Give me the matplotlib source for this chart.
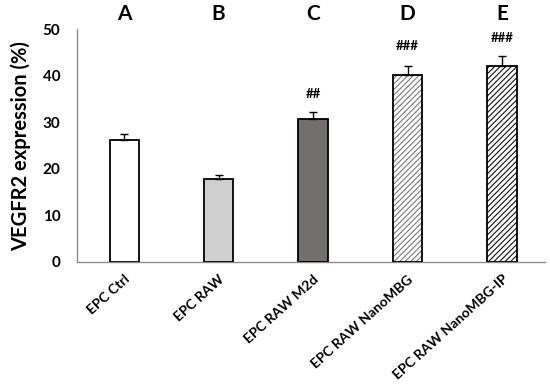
import matplotlib
matplotlib.use("Agg")
import matplotlib.pyplot as plt

categories = ["EPC Ctrl", "EPC RAW", "EPC RAW M2d", "EPC RAW NanoMBG", "EPC RAW NanoMBG-IP"]
values = [26.2, 17.8, 30.7, 40.2, 42.1]
errors = [1.3, 0.9, 1.6, 2.0, 2.2]
letters = ["A", "B", "C", "D", "E"]
marks = ["", "", "##", "###", "###"]
mark_y = [None, None, 36.1, 46.5, 48.1]
yticks = [0, 10, 20, 30, 40, 50]

plt.rcParams['font.family'] = ['Lato', 'DejaVu Sans']
plt.rcParams['hatch.linewidth'] = 0.8

fig = plt.figure(figsize=(5.5, 3.91), dpi=100)
ax = fig.add_axes([0.14, 0.33, 0.85, 0.595])

x = list(range(len(categories)))
fills = ["white", "#d0d0d0", "#736f6f", "white", "white"]
hatches = [None, None, None, "//////", "//////"]
hcolors = [None, None, None, "#7a7a7a", "#111111"]
w = 0.31
for i in x:
    if hatches[i]:
        ax.bar(x[i], values[i], width=w, color=fills[i], edgecolor=hcolors[i],
               hatch=hatches[i], linewidth=0, zorder=2)
        ax.bar(x[i], values[i], width=w, fill=False, edgecolor="black",
               linewidth=1.3, zorder=3)
    else:
        ax.bar(x[i], values[i], width=w, color=fills[i], edgecolor="black",
               linewidth=1.3, zorder=3)
ax.errorbar(x, values, yerr=[[0]*5, errors], fmt="none", ecolor="black",
            elinewidth=1.0, capsize=3, capthick=1.0, zorder=4)

for i in x:
    ax.text(x[i], 53.3, letters[i], ha="center", va="center", fontsize=15,
            fontweight="bold", clip_on=False)
    if marks[i]:
        ax.text(x[i], mark_y[i], marks[i], ha="center", va="center", fontsize=9.5,
                fontweight="bold")

ax.set_xlim(-0.5, 4.45)
ax.set_ylim(0, 50)
ax.set_yticks(yticks)
ax.set_yticklabels([str(t) for t in yticks], fontsize=11, fontweight="bold")
ax.set_xticks(x)
ax.set_xticklabels(categories, rotation=42, ha="right", rotation_mode="anchor",
                   fontsize=10, fontweight="bold")
ax.tick_params(axis="y", length=0, pad=12)
ax.tick_params(axis="x", length=0, pad=8)
ax.set_ylabel("VEGFR2 expression (%)", fontsize=14.5, fontweight="bold", labelpad=8)
for s in ["top", "right"]:
    ax.spines[s].set_visible(False)
for s in ["left", "bottom"]:
    ax.spines[s].set_color("#8c8c8c")
    ax.spines[s].set_linewidth(1.0)

fig.savefig("out.png", dpi=100)
